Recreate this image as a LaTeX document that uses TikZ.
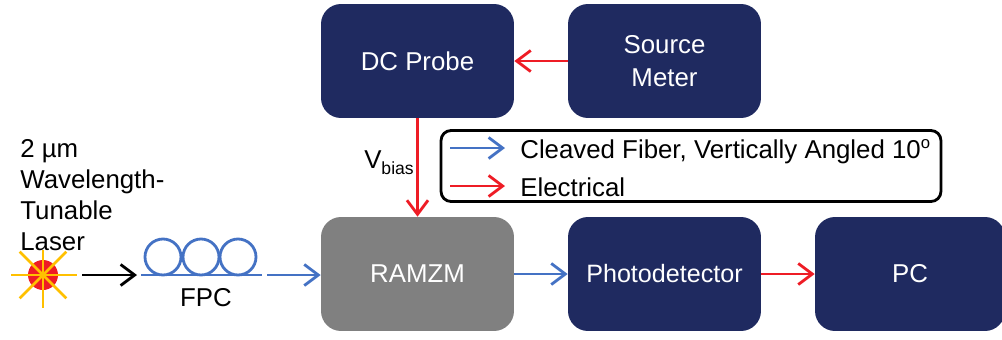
\documentclass[tikz,border=0pt]{standalone}
\usepackage{fontspec}
\setmainfont{Liberation Sans}
\usetikzlibrary{arrows.meta}
\definecolor{navybox}{HTML}{1F2A60}
\definecolor{greybox}{HTML}{808080}
\definecolor{fiberblue}{HTML}{4472C4}
\definecolor{elecred}{HTML}{EE1C25}
\definecolor{rayorange}{HTML}{FFC000}
\tikzset{
    devbox/.style={rectangle,rounded corners=0.4cm,fill=navybox,text=white,align=center,
        minimum width=3.86cm,minimum height=2.28cm,inner sep=0pt,font=\fontsize{14.7}{19}\selectfont},
    greydev/.style={devbox,fill=greybox},
    label text/.style={inner sep=0pt,font=\fontsize{14.7}{17.6}\selectfont},
    fiber/.style={draw=fiberblue,line width=1.6pt},
    fiber arrow/.style={fiber,-{Straight Barb[length=8pt,width=12pt,line width=1.6pt]}},
    elec arrow/.style={draw=elecred,line width=1.6pt,-{Straight Barb[length=8pt,width=12pt,line width=1.6pt]}},
    free arrow/.style={draw=black,line width=1.6pt,-{Straight Barb[length=8pt,width=12pt,line width=1.6pt]}},
}
\begin{document}
\begin{tikzpicture}[x=0.02cm,y=-0.02cm]
    \useasboundingbox (0,0) rectangle (1002,339);

    % 器件方框
    \node [devbox] (probe) at (417.5,61) {DC Probe};
    \node [devbox] (meter) at (664.5,61) {Source\\Meter};
    \node [greydev] (ramzm) at (417.5,274) {RAMZM};
    \node [devbox,font=\fontsize{14.3}{19}\selectfont] (detector) at (664.5,274) {Photodetector};
    \node [devbox,minimum width=3.8cm] (pc) at (910,274) {PC};

    % 激光器
    \node [label text,align=left,anchor=north west] (lasertext) at (20,139.5) {2 µm\\Wavelength-\\Tunable\\Laser};
    \node [circle,fill=elecred,minimum size=0.6cm,inner sep=0pt] (laser) at (43,275) {};
    \foreach \ang/\len in {0/0.68,45/0.66,90/0.5,135/0.66,180/0.64,225/0.66,270/0.66,315/0.66} {
        \draw [rayorange,line width=1.5pt] (laser.center) -- ++(\ang:\len cm);
    }

    % 偏振控制器
    \coordinate (fiberleft) at (141,275);
    \coordinate (fiberright) at (262,275);
    \foreach \loopname/\cx in {loopa/163,loopb/201,loopc/238} {
        \node [circle,fiber,minimum size=0.72cm,inner sep=0pt] (\loopname) at (\cx,257) {};
    }
    \draw [fiber] (fiberleft) -- (fiberright);
    \node [label text] (fpc) at (206,298) {FPC};

    % 光路
    \coordinate (laserout) at (82,275);
    \coordinate (fpcin) at (137,275);
    \coordinate (fpcout) at (267,275);
    \draw [free arrow] (laserout) -- (fpcin);
    \draw [fiber arrow] (fpcout) -- (ramzm.west |- fpcout);
    \draw [fiber arrow] (ramzm) -- (detector);

    % 电路
    \draw [elec arrow] (detector) -- (pc);
    \draw [elec arrow] (meter) -- (probe);
    \draw [elec arrow] (probe.south) -- (ramzm.north);
    \node [label text] (vbias) at (389,163) {V\raisebox{-0.45ex}{\fontsize{10}{12}\selectfont bias}};

    % 图例
    \node [draw=black,line width=1.6pt,rounded corners=0.2cm,minimum width=10cm,minimum height=1.42cm,inner sep=0pt] (legend) at (691,166) {};
    \coordinate (bluestart) at (450,148);
    \coordinate (blueend) at (505,148);
    \coordinate (redstart) at (450,186);
    \coordinate (redend) at (505,186);
    \draw [fiber arrow] (bluestart) -- (blueend);
    \draw [elec arrow] (redstart) -- (redend);
    \node [label text,anchor=base west] (bluetext) at (520,158) {Cleaved Fiber, Vertically Angled 10\raisebox{0.7ex}{\fontsize{9.5}{11}\selectfont o}};
    \node [label text,anchor=base west] (redtext) at (520,196) {Electrical};

\end{tikzpicture}
\end{document}
